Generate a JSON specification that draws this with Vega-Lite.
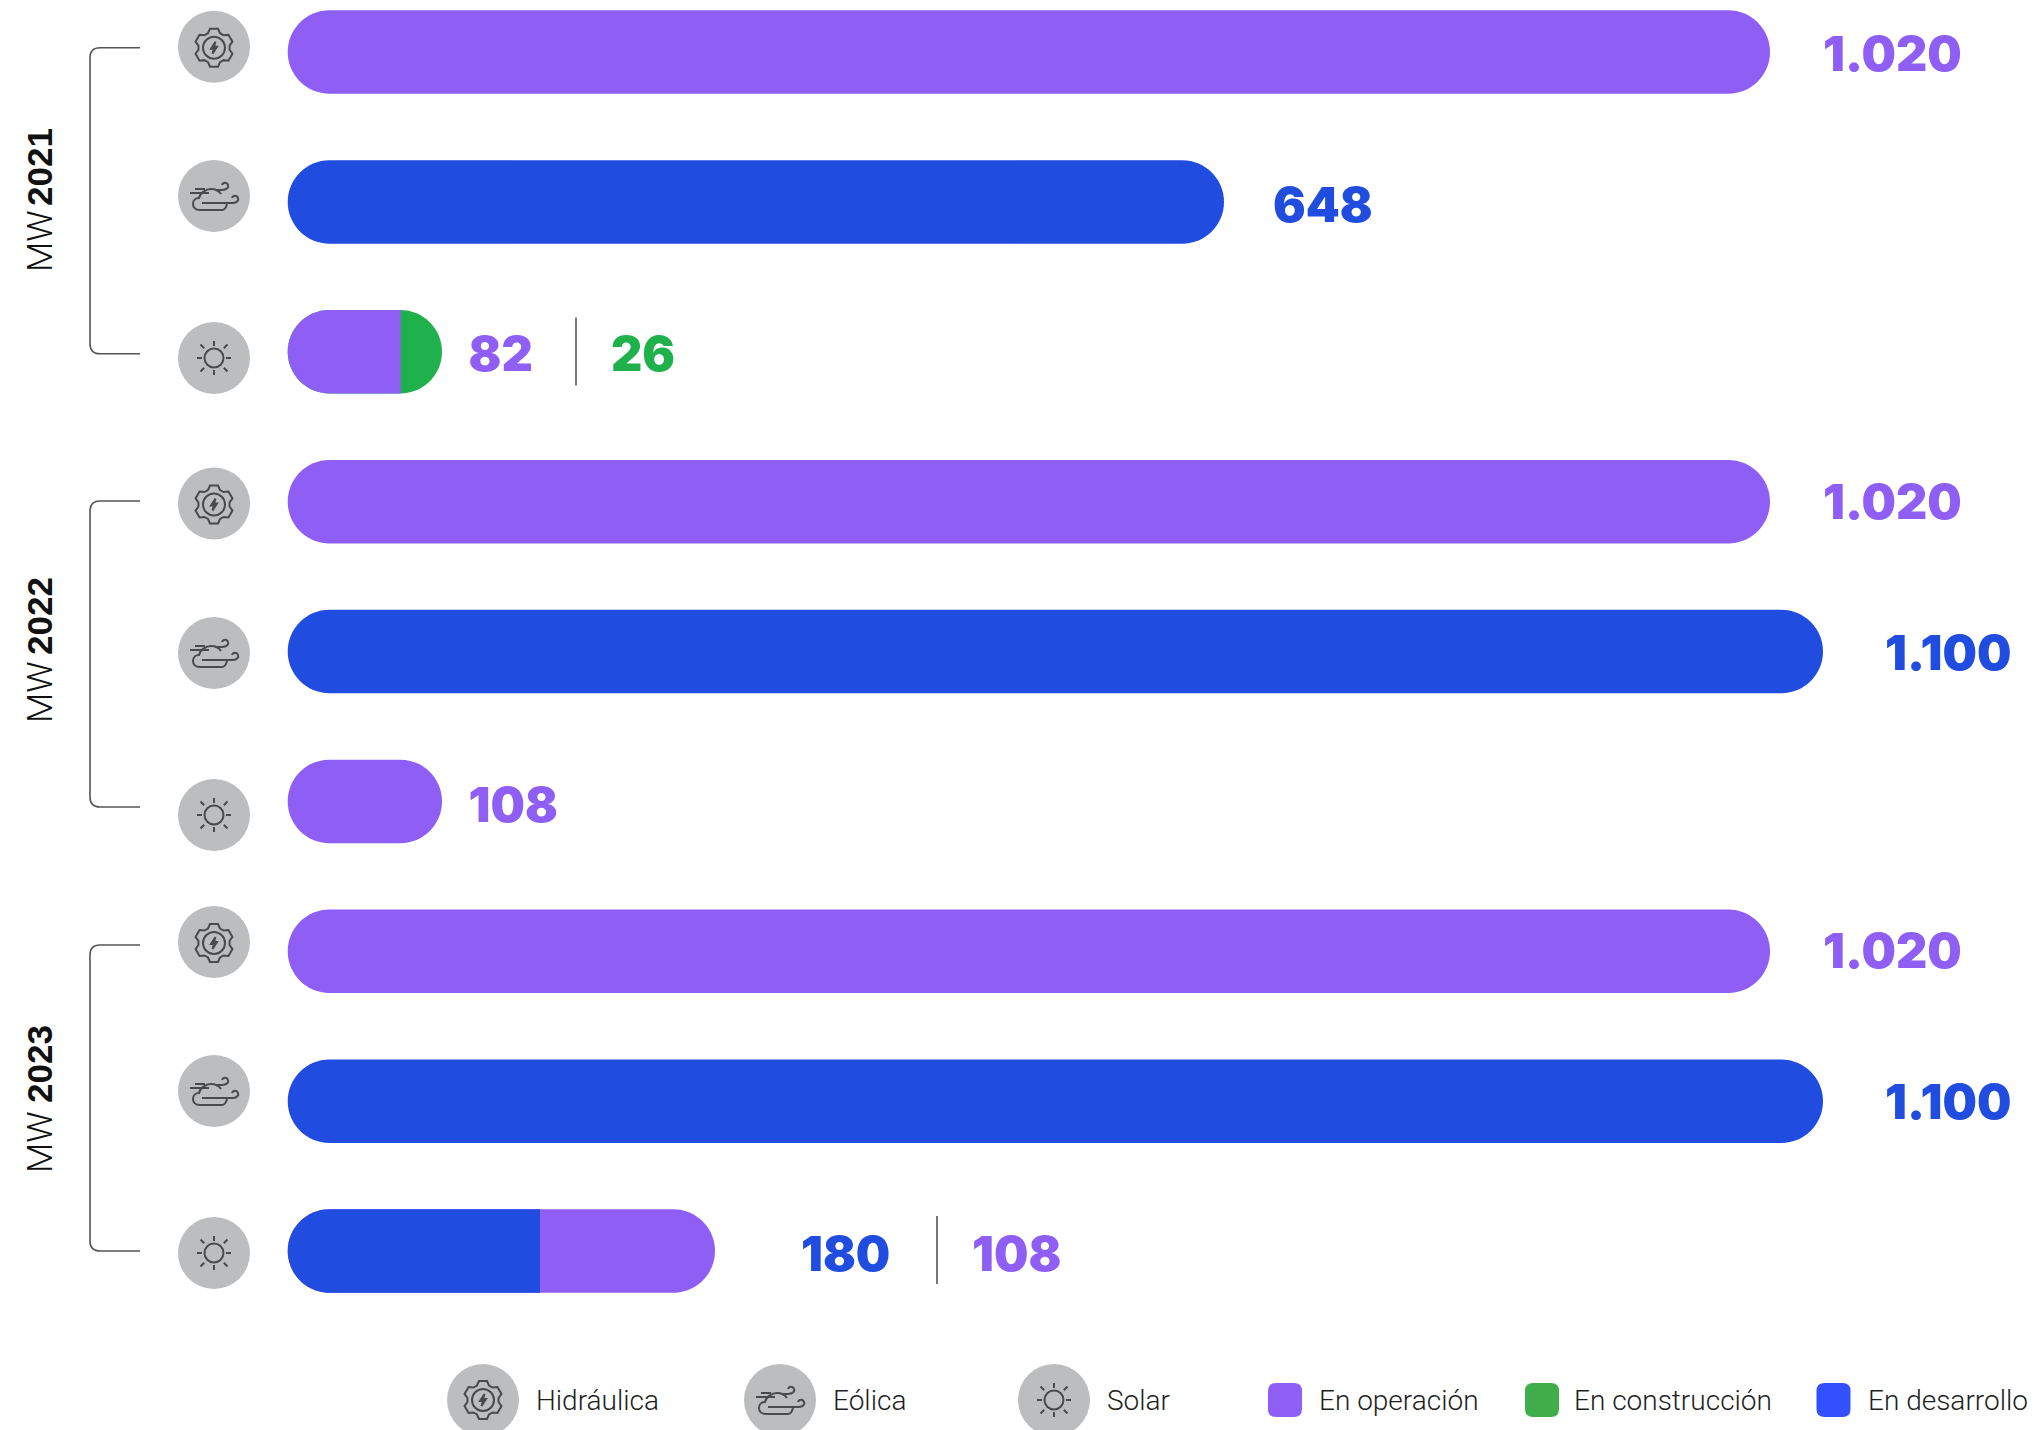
{"$schema":"https://vega.github.io/schema/vega-lite/v6.json","width":2035,"height":1430,"padding":0,"autosize":{"type":"none"},"background":"white","config":{"view":{"stroke":null}},
"datasets":{
"barras":[
{"fila":"2021 Hidráulica","n":1,"anio":2021,"tecnologia":"Hidráulica","estado":"En operación","valor":1020,"etiqueta":"1.020","seq":1},
{"fila":"2021 Eólica","n":2,"anio":2021,"tecnologia":"Eólica","estado":"En desarrollo","valor":648,"etiqueta":"648","seq":1},
{"fila":"2021 Solar","n":3,"anio":2021,"tecnologia":"Solar","estado":"En operación","valor":82,"etiqueta":"82","seq":1},
{"fila":"2021 Solar","n":3,"anio":2021,"tecnologia":"Solar","estado":"En construcción","valor":26,"etiqueta":"26","seq":2},
{"fila":"2022 Hidráulica","n":4,"anio":2022,"tecnologia":"Hidráulica","estado":"En operación","valor":1020,"etiqueta":"1.020","seq":1},
{"fila":"2022 Eólica","n":5,"anio":2022,"tecnologia":"Eólica","estado":"En desarrollo","valor":1100,"etiqueta":"1.100","seq":1},
{"fila":"2022 Solar","n":6,"anio":2022,"tecnologia":"Solar","estado":"En operación","valor":108,"etiqueta":"108","seq":1},
{"fila":"2023 Hidráulica","n":7,"anio":2023,"tecnologia":"Hidráulica","estado":"En operación","valor":1020,"etiqueta":"1.020","seq":1},
{"fila":"2023 Eólica","n":8,"anio":2023,"tecnologia":"Eólica","estado":"En desarrollo","valor":1100,"etiqueta":"1.100","seq":1},
{"fila":"2023 Solar","n":9,"anio":2023,"tecnologia":"Solar","estado":"En desarrollo","valor":180,"etiqueta":"180","seq":1},
{"fila":"2023 Solar","n":9,"anio":2023,"tecnologia":"Solar","estado":"En operación","valor":108,"etiqueta":"108","seq":2}
],
"filas":[
{"n":1,"anio":2021,"tecnologia":"Hidráulica"},{"n":2,"anio":2021,"tecnologia":"Eólica"},{"n":3,"anio":2021,"tecnologia":"Solar"},
{"n":4,"anio":2022,"tecnologia":"Hidráulica"},{"n":5,"anio":2022,"tecnologia":"Eólica"},{"n":6,"anio":2022,"tecnologia":"Solar"},
{"n":7,"anio":2023,"tecnologia":"Hidráulica"},{"n":8,"anio":2023,"tecnologia":"Eólica"},{"n":9,"anio":2023,"tecnologia":"Solar"}
],
"anios":[{"anio":2021},{"anio":2022},{"anio":2023}],
"leyendaIconos":[{"orden":1,"tecnologia":"Hidráulica"},{"orden":2,"tecnologia":"Eólica"},{"orden":3,"tecnologia":"Solar"}],
"leyendaEstados":[{"orden":4,"estado":"En operación"},{"orden":5,"estado":"En construcción"},{"orden":6,"estado":"En desarrollo"}],
"leyendaTextos":[{"orden":1,"item":"Hidráulica"},{"orden":2,"item":"Eólica"},{"orden":3,"item":"Solar"},{"orden":4,"item":"En operación"},{"orden":5,"item":"En construcción"},{"orden":6,"item":"En desarrollo"}]
},
"layer":[
{"data":{"name":"anios"},"mark":{"type":"point","shape":"M25,-153H-15Q-25,-153 -25,-143V143Q-25,153 -15,153H25","size":4,"filled":false,"stroke":"#555555","strokeWidth":1.6,"opacity":1},
"encoding":{"x":{"field":"anio","type":"quantitative","axis":null,"scale":{"domain":[2021,2023],"range":[115,115]}},"y":{"field":"anio","type":"quantitative","axis":null,"scale":{"domain":[2021,2022,2023],"range":[200.8,654,1098],"zero":false}}}},
{"data":{"name":"anios"},"mark":{"type":"text","text":"MW","angle":270,"align":"left","baseline":"middle","font":"Roboto","fontSize":35,"fontWeight":300,"color":"#111111"},
"encoding":{"x":{"field":"anio","type":"quantitative","axis":null,"scale":{"domain":[2021,2023],"range":[41,41]}},"y":{"field":"anio","type":"quantitative","axis":null,"scale":{"domain":[2021,2022,2023],"range":[272,723,1173],"zero":false}}}},
{"data":{"name":"anios"},"mark":{"type":"text","angle":270,"align":"center","baseline":"middle","font":"Liberation Sans","fontSize":35,"fontWeight":700,"color":"#111111"},
"encoding":{"text":{"field":"anio","type":"nominal"},"x":{"field":"anio","type":"quantitative","axis":null,"scale":{"domain":[2021,2023],"range":[41,41]}},"y":{"field":"anio","type":"quantitative","axis":null,"scale":{"domain":[2021,2022,2023],"range":[167,616,1064],"zero":false}}}},
{"data":{"name":"filas"},"mark":{"type":"point","shape":"circle","filled":true,"size":5184,"color":"#BCBDBF","opacity":1},
"encoding":{"x":{"field":"anio","type":"quantitative","axis":null,"scale":{"domain":[2021,2023],"range":[214,214]}},"y":{"field":"n","type":"quantitative","axis":null,"scale":{"domain":[1,2,3,4,5,6,7,8,9],"range":[46.7,196,358,503.5,653,815,942,1091,1253],"zero":false}}}},
{"data":{"name":"filas"},"mark":{"type":"point","filled":false,"size":4,"stroke":"#4A4A4C","strokeWidth":2,"opacity":1},
"encoding":{"x":{"field":"anio","type":"quantitative","axis":null,"scale":{"domain":[2021,2023],"range":[214,214]}},"y":{"field":"n","type":"quantitative","axis":null,"scale":{"domain":[1,2,3,4,5,6,7,8,9],"range":[47.7,196,358,504.5,653,815,943,1091,1253],"zero":false}},
"shape":{"field":"tecnologia","type":"nominal","legend":null,"scale":{"domain":["Hidráulica","Eólica","Solar"],"range":[
"M-6,-14.5L-4,-19L4,-19L6,-14.5L9.56,-12.45L14.45,-12.96L18.45,-6.04L15.56,-2.05L15.56,2.05L18.45,6.04L14.45,12.96L9.56,12.45L6,14.5L4,19L-4,19L-6,14.5L-9.56,12.45L-14.45,12.96L-18.45,6.04L-15.56,2.05L-15.56,-2.05L-18.45,-6.04L-14.45,-12.96L-9.56,-12.45ZM11,0A11,11 0 1,1 -11,0A11,11 0 1,1 11,0ZM1.5,-6L-3,1H0L-1.5,6L3,-1H0Z",
"M-14,14C-19,14 -21,11 -21,8C-21,4 -18,2 -15,2C-14,-3 -8,-7 -3,-7C1,-7 5,-5 7,-2M-14,14H8C10,14 12,12 13,8M-12,7H19C23,7 25,4 24,2C23,-1 19,-1 18,2M3,-6H8C13,-6 15,-9 14,-11C13,-14 9,-14 8,-11M-24,-3H-5M-19,-7H-9",
"M9.5,0A9.5,9.5 0 1,1 -9.5,0A9.5,9.5 0 1,1 9.5,0ZM0,-17V-12M0,17V12M-17,0H-12M17,0H12M-13.5,-13.5L-9.8,-9.8M13.5,-13.5L9.8,-9.8M-13.5,13.5L-9.8,9.8M13.5,13.5L9.8,9.8"
]}}}},
{"data":{"name":"barras"},"transform":[{"joinaggregate":[{"op":"sum","field":"valor","as":"total"},{"op":"max","field":"seq","as":"ultimo"}],"groupby":["fila"]},{"filter":"datum.seq==datum.ultimo"}],
"mark":{"type":"bar","size":83.5,"cornerRadius":41.7},
"encoding":{"x":{"field":"total","type":"quantitative","stack":null,"axis":null,"scale":{"domain":[0,82,108,180,288,648,1020,1100],"range":[287.7,400.7,442,540,715,1224,1770,1823]}},
"y":{"field":"fila","type":"nominal","axis":null,"scale":{"type":"point","padding":0,"domain":["2021 Hidráulica","2021 Eólica","2021 Solar","2022 Hidráulica","2022 Eólica","2022 Solar","2023 Hidráulica","2023 Eólica","2023 Solar"],"range":[52,1251]}},
"color":{"field":"estado","type":"nominal","legend":null,"scale":{"domain":["En operación","En construcción","En desarrollo"],"range":["#8E5EF5","#1FB14C","#204CE0"]}}}},
{"data":{"name":"barras"},"transform":[{"joinaggregate":[{"op":"max","field":"seq","as":"ultimo"}],"groupby":["fila"]},{"filter":"datum.seq<datum.ultimo"}],
"mark":{"type":"bar","size":83.5,"cornerRadiusTopLeft":41.7,"cornerRadiusBottomLeft":41.7},
"encoding":{"x":{"field":"valor","type":"quantitative","stack":null,"axis":null,"scale":{"domain":[0,82,108,180,288,648,1020,1100],"range":[287.7,400.7,442,540,715,1224,1770,1823]}},
"y":{"field":"fila","type":"nominal","axis":null,"scale":{"type":"point","padding":0,"domain":["2021 Hidráulica","2021 Eólica","2021 Solar","2022 Hidráulica","2022 Eólica","2022 Solar","2023 Hidráulica","2023 Eólica","2023 Solar"],"range":[52,1251]}},
"color":{"field":"estado","type":"nominal","legend":null,"scale":{"domain":["En operación","En construcción","En desarrollo"],"range":["#8E5EF5","#1FB14C","#204CE0"]}}}},
{"data":{"name":"barras"},"transform":[{"filter":"datum.seq==1"}],"mark":{"type":"text","align":"left","baseline":"middle","font":"Inter","fontSize":48.5,"fontWeight":900},
"encoding":{"text":{"field":"etiqueta","type":"nominal"},"x":{"field":"valor","type":"quantitative","axis":null,"scale":{"domain":[82,108,180,648,1020,1100],"range":[468.5,468.5,801,1273,1823,1885]}},
"y":{"field":"n","type":"quantitative","axis":null,"scale":{"domain":[1,2,3,4,5,6,7,8,9],"range":[56,207,356,504,655,807,953,1104,1256],"zero":false}},
"color":{"field":"estado","type":"nominal","legend":null,"scale":{"domain":["En operación","En construcción","En desarrollo"],"range":["#8E5EF5","#1FB14C","#204CE0"]}}}},
{"data":{"name":"barras"},"transform":[{"filter":"datum.seq==2"}],"mark":{"type":"text","align":"left","baseline":"middle","font":"Inter","fontSize":48.5,"fontWeight":900},
"encoding":{"text":{"field":"etiqueta","type":"nominal"},"x":{"field":"valor","type":"quantitative","axis":null,"scale":{"domain":[26,108],"range":[611,972]}},
"y":{"field":"n","type":"quantitative","axis":null,"scale":{"domain":[3,9],"range":[356,1256],"zero":false}},
"color":{"field":"estado","type":"nominal","legend":null,"scale":{"domain":["En operación","En construcción","En desarrollo"],"range":["#8E5EF5","#1FB14C","#204CE0"]}}}},
{"data":{"name":"barras"},"transform":[{"filter":"datum.seq==2"}],"mark":{"type":"tick","size":68,"thickness":1.6,"color":"#555555","opacity":1},
"encoding":{"x":{"field":"valor","type":"quantitative","axis":null,"scale":{"domain":[26,108],"range":[576,937]}},
"y":{"field":"n","type":"quantitative","axis":null,"scale":{"domain":[3,9],"range":[351.5,1250],"zero":false}}}},
{"data":{"name":"leyendaIconos"},"mark":{"type":"point","shape":"circle","filled":true,"size":5184,"color":"#BCBDBF","opacity":1},
"encoding":{"x":{"field":"orden","type":"quantitative","axis":null,"scale":{"domain":[1,2,3],"range":[483,780,1054]}},"y":{"field":"orden","type":"quantitative","axis":null,"scale":{"domain":[1,3],"range":[1400,1400],"zero":false}}}},
{"data":{"name":"leyendaIconos"},"mark":{"type":"point","filled":false,"size":4,"stroke":"#4A4A4C","strokeWidth":2,"opacity":1},
"encoding":{"x":{"field":"orden","type":"quantitative","axis":null,"scale":{"domain":[1,2,3],"range":[483,780,1054]}},"y":{"field":"orden","type":"quantitative","axis":null,"scale":{"domain":[1,3],"range":[1400,1400],"zero":false}},
"shape":{"field":"tecnologia","type":"nominal","legend":null,"scale":{"domain":["Hidráulica","Eólica","Solar"],"range":[
"M-6,-14.5L-4,-19L4,-19L6,-14.5L9.56,-12.45L14.45,-12.96L18.45,-6.04L15.56,-2.05L15.56,2.05L18.45,6.04L14.45,12.96L9.56,12.45L6,14.5L4,19L-4,19L-6,14.5L-9.56,12.45L-14.45,12.96L-18.45,6.04L-15.56,2.05L-15.56,-2.05L-18.45,-6.04L-14.45,-12.96L-9.56,-12.45ZM11,0A11,11 0 1,1 -11,0A11,11 0 1,1 11,0ZM1.5,-6L-3,1H0L-1.5,6L3,-1H0Z",
"M-14,14C-19,14 -21,11 -21,8C-21,4 -18,2 -15,2C-14,-3 -8,-7 -3,-7C1,-7 5,-5 7,-2M-14,14H8C10,14 12,12 13,8M-12,7H19C23,7 25,4 24,2C23,-1 19,-1 18,2M3,-6H8C13,-6 15,-9 14,-11C13,-14 9,-14 8,-11M-24,-3H-5M-19,-7H-9",
"M9.5,0A9.5,9.5 0 1,1 -9.5,0A9.5,9.5 0 1,1 9.5,0ZM0,-17V-12M0,17V12M-17,0H-12M17,0H12M-13.5,-13.5L-9.8,-9.8M13.5,-13.5L9.8,-9.8M-13.5,13.5L-9.8,9.8M13.5,13.5L9.8,9.8"
]}}}},
{"data":{"name":"leyendaEstados"},"mark":{"type":"point","shape":"M-9,-17H9Q17,-17 17,-9V9Q17,17 9,17H-9Q-17,17 -17,9V-9Q-17,-17 -9,-17Z","filled":true,"size":4,"opacity":1},
"encoding":{"x":{"field":"orden","type":"quantitative","axis":null,"scale":{"domain":[4,5,6],"range":[1285,1542,1833.5]}},"y":{"field":"orden","type":"quantitative","axis":null,"scale":{"domain":[4,6],"range":[1400,1400],"zero":false}},
"color":{"field":"estado","type":"nominal","legend":null,"scale":{"domain":["En operación","En construcción","En desarrollo"],"range":["#8E5EF5","#3FAE4A","#3350FF"]}}}},
{"data":{"name":"leyendaTextos"},"mark":{"type":"text","align":"left","baseline":"middle","font":"Roboto","fontSize":28,"fontWeight":300,"color":"#1E1E1E"},
"encoding":{"text":{"field":"item","type":"nominal"},"x":{"field":"orden","type":"quantitative","axis":null,"scale":{"domain":[1,2,3,4,5,6],"range":[536,833,1107,1319,1574,1868]}},"y":{"field":"orden","type":"quantitative","axis":null,"scale":{"domain":[1,6],"range":[1402,1402],"zero":false}}}}
],
"resolve":{"scale":{"x":"independent","y":"independent","color":"independent","shape":"independent"}}}
